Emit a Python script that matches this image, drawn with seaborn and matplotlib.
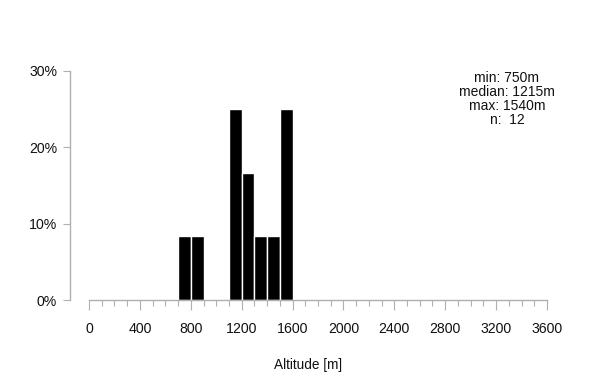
import numpy as np
import pandas as pd
import matplotlib
matplotlib.use("Agg")
import matplotlib.pyplot as plt
import seaborn as sns
from matplotlib.ticker import FixedLocator, FuncFormatter

# Data: altitude histogram (bins of 100 m), counts per bin
bin_starts = [700, 800, 1100, 1200, 1300, 1400, 1500]
counts = [1, 1, 3, 2, 1, 1, 3]
bin_width = 100
x_ticks = [0, 400, 800, 1200, 1600, 2000, 2400, 2800, 3200, 3600]
y_ticks = [0, 10, 20, 30]
stats_text = "min: 750m\nmedian: 1215m\nmax: 1540m\nn:  12"
xlabel = "Altitude [m]"

df = pd.DataFrame({"mid": [b + bin_width / 2 for b in bin_starts], "count": counts})

sns.set_style("white")
plt.rcParams["font.family"] = ["Liberation Sans", "DejaVu Sans"]

W, H = 600, 390
fig = plt.figure(figsize=(6, 3.9), dpi=100)
# axes placement in pixels
px_left, px_right = 70, 547
px_top, px_bottom = 71, 300
ax = fig.add_axes([px_left / W, 1 - px_bottom / H, (px_right - px_left) / W, (px_bottom - px_top) / H])

sns.histplot(data=df, x="mid", weights="count", binwidth=bin_width, binrange=(0, 3600),
             stat="percent", color="black", edgecolor="white", linewidth=1.0,
             alpha=1.0, ax=ax)

scale = (547 - 89) / 3600.0
x0 = -(89 - px_left) / scale
ax.set_xlim(x0, 3600)
ax.set_ylim(0, 30)

gray = "#b0b0b0"
for s in ["top", "right"]:
    ax.spines[s].set_visible(False)
ax.spines["left"].set_color(gray)
ax.spines["bottom"].set_color(gray)
ax.spines["left"].set_linewidth(1.0)
ax.spines["bottom"].set_linewidth(1.0)
ax.spines["bottom"].set_bounds(0, 3600)
ax.spines["left"].set_bounds(0, 30)

ax.set_xticks(x_ticks)
minor = [v for v in range(bin_width, 3600, bin_width) if v % 400 != 0]
ax.xaxis.set_minor_locator(FixedLocator(minor))
ax.set_yticks(y_ticks)
ax.yaxis.set_major_formatter(FuncFormatter(lambda v, p: f"{int(v)}%"))
ax.tick_params(axis="x", which="major", bottom=True, length=7, width=0.8, color=gray,
               labelsize=10.2, pad=9, labelcolor="#111111")
ax.tick_params(axis="x", which="minor", bottom=True, length=4, width=0.8, color=gray)
ax.tick_params(axis="y", which="major", left=True, length=5, width=0.8, color=gray,
               labelsize=10.2, pad=4.3, labelcolor="#111111")

ax.set_xlabel(xlabel, fontsize=9.8, labelpad=16, color="#111111")
ax.set_ylabel("")
ax.text(507 / W, 1 - 71.5 / H, stats_text, transform=fig.transFigure, ha="center", va="top",
        fontsize=10, linespacing=1.0, color="#111111")

fig.savefig("out.png", dpi=100, facecolor="white")
